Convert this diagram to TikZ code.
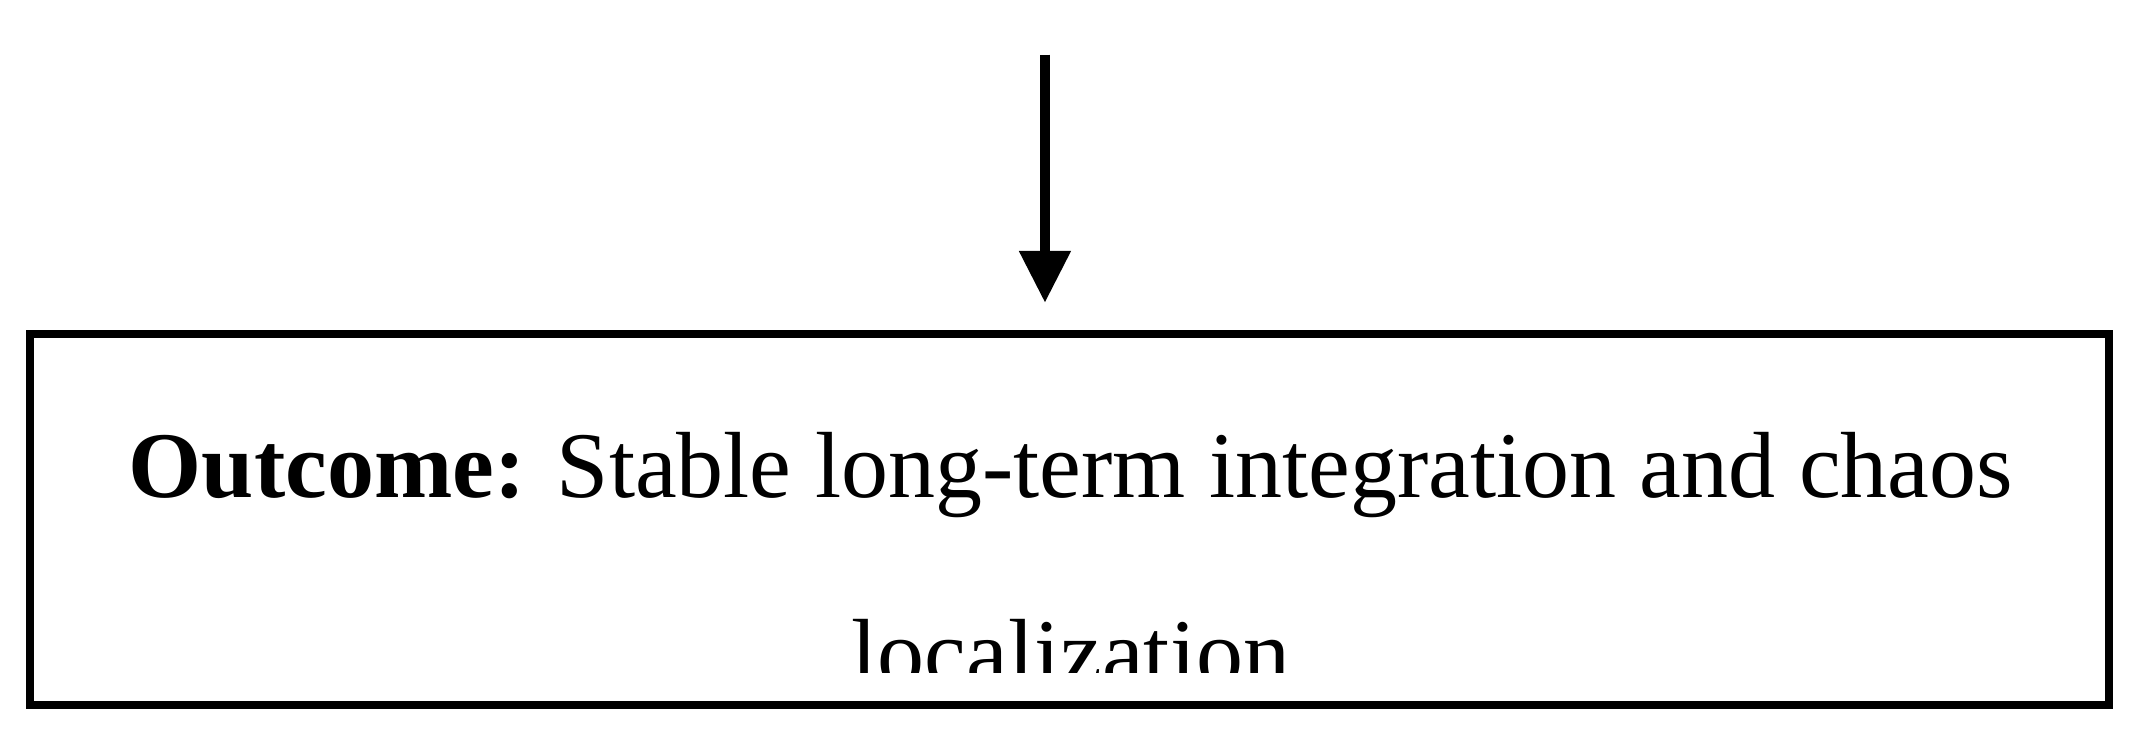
\documentclass[tikz,border=0pt]{standalone}
\usepackage{fontspec}
\setmainfont{Liberation Serif}
\usetikzlibrary{arrows.meta}
\begin{document}
\begin{tikzpicture}[x=1cm,y=1cm,
  boxstyle/.style={draw,line width=1.6pt},
  txt/.style={font=\fontsize{19.6}{23}\selectfont,anchor=base,inner sep=0pt}]
\useasboundingbox (0,0) rectangle (15.68,5.40);
\coordinate (top) at (7.66,5.00);
\draw[boxstyle] (0.22,0.23) rectangle (15.46,2.95);
\coordinate (boxtop) at (7.66,3.18);
\draw[line width=2.2pt,-{Triangle[length=0.38cm,width=0.36cm]}] (top) -- (boxtop);
\node[txt] (l1) at (7.85,1.75) {\textbf{Outcome:} Stable long-term integration and chaos};
\begin{scope}
\clip (0.25,0.47) rectangle (15.43,2.92);
\node[txt] (l2) at (7.85,0.38) {localization};
\end{scope}
\end{tikzpicture}
\end{document}
